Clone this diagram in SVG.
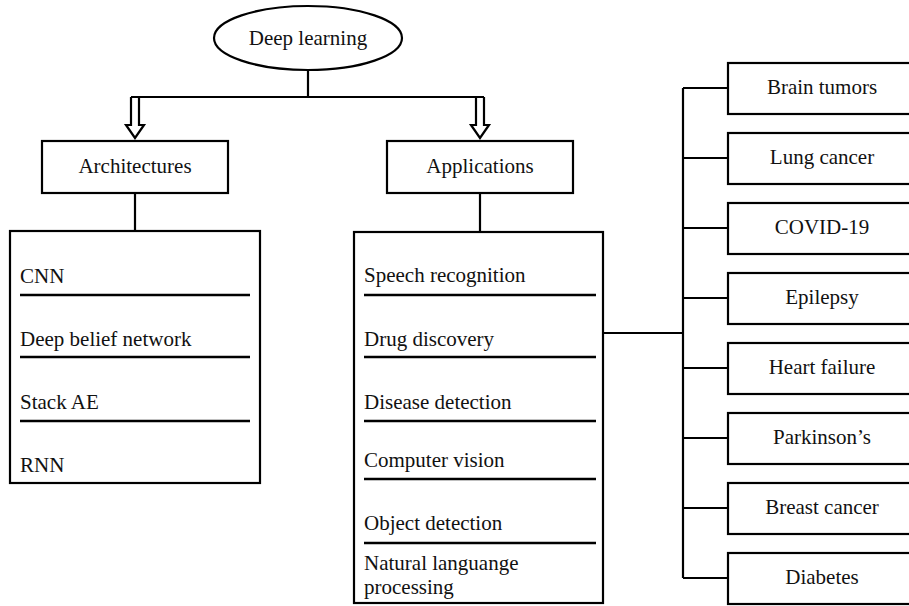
<svg xmlns="http://www.w3.org/2000/svg" width="909" height="606" viewBox="0 0 909 606">
<style>
  .box{fill:#fff;stroke:#000;stroke-width:2.2}
  .ln{fill:none;stroke:#000;stroke-width:2.2}
  .sep{stroke:#000;stroke-width:2.6}
  text{font-family:"Liberation Serif","Times New Roman",serif;font-size:21px;fill:#111}
  .c{text-anchor:middle}
</style>
<rect width="909" height="606" fill="#fff"/>
<g id="connectors">
  <path class="ln" d="M308 70 V97 M131 97 H484"/>
  <path class="ln" d="M131 97 V125 H126 L135 138 L144 125 H139 V97"/>
  <path class="ln" d="M476 97 V125 H471 L480 138 L489 125 H484 V97"/>
  <path class="ln" d="M135 193 V231 M480 193 V232"/>
  <path class="ln" d="M603 333 H683 M683 88 V578"/>
  <path class="ln" d="M683 88 H728 M683 158 H728 M683 228 H728 M683 298 H728 M683 368 H728 M683 438 H728 M683 508 H728 M683 578 H728"/>
</g>
<g id="deep-learning">
  <ellipse class="box" cx="308" cy="38" rx="94" ry="32"/>
  <text class="c" x="308" y="45">Deep learning</text>
</g>
<g id="architectures">
  <rect class="box" x="42" y="141" width="186" height="52"/>
  <text class="c" x="135" y="173">Architectures</text>
</g>
<g id="applications">
  <rect class="box" x="387" y="141" width="186" height="52"/>
  <text class="c" x="480" y="173">Applications</text>
</g>
<g id="architecture-list">
  <rect class="box" x="10" y="231" width="250" height="252"/>
  <text x="20" y="283">CNN</text>
  <line class="sep" x1="20" y1="295" x2="250" y2="295"/>
  <text x="20" y="346">Deep belief network</text>
  <line class="sep" x1="20" y1="357" x2="250" y2="357"/>
  <text x="20" y="409">Stack AE</text>
  <line class="sep" x1="20" y1="421" x2="250" y2="421"/>
  <text x="20" y="472">RNN</text>
</g>
<g id="application-list">
  <rect class="box" x="354" y="232" width="249" height="371"/>
  <text x="364" y="282">Speech recognition</text>
  <line class="sep" x1="364" y1="295" x2="596" y2="295"/>
  <text x="364" y="346">Drug discovery</text>
  <line class="sep" x1="364" y1="357" x2="596" y2="357"/>
  <text x="364" y="409">Disease detection</text>
  <line class="sep" x1="364" y1="421" x2="596" y2="421"/>
  <text x="364" y="467">Computer vision</text>
  <line class="sep" x1="364" y1="479" x2="596" y2="479"/>
  <text x="364" y="530">Object detection</text>
  <line class="sep" x1="364" y1="543" x2="596" y2="543"/>
  <text x="364" y="570">Natural languange</text>
  <text x="364" y="594">processing</text>
</g>
<g id="brain-tumors"><rect class="box" x="728" y="63" width="190" height="51"/><text class="c" x="822" y="94">Brain tumors</text></g>
<g id="lung-cancer"><rect class="box" x="728" y="133" width="190" height="51"/><text class="c" x="822" y="164">Lung cancer</text></g>
<g id="covid-19"><rect class="box" x="728" y="203" width="190" height="51"/><text class="c" x="822" y="234">COVID-19</text></g>
<g id="epilepsy"><rect class="box" x="728" y="273" width="190" height="51"/><text class="c" x="822" y="304">Epilepsy</text></g>
<g id="heart-failure"><rect class="box" x="728" y="343" width="190" height="51"/><text class="c" x="822" y="374">Heart failure</text></g>
<g id="parkinsons"><rect class="box" x="728" y="413" width="190" height="51"/><text class="c" x="822" y="444">Parkinson’s</text></g>
<g id="breast-cancer"><rect class="box" x="728" y="483" width="190" height="51"/><text class="c" x="822" y="514">Breast cancer</text></g>
<g id="diabetes"><rect class="box" x="728" y="553" width="190" height="51"/><text class="c" x="822" y="584">Diabetes</text></g>
</svg>
